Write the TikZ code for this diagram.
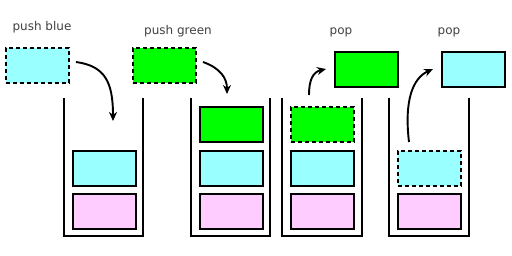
\documentclass[tikz,border=0pt]{standalone}
\usepackage{fontspec}
\setmainfont{DejaVu Sans}
\usetikzlibrary{arrows.meta}
\definecolor{cyanbox}{HTML}{99FFFF}
\definecolor{greenbox}{HTML}{00FF00}
\definecolor{pinkbox}{HTML}{FFCCFF}
\definecolor{labelgray}{HTML}{404040}
\begin{document}
\begin{tikzpicture}[x=1pt,y=-1pt,
  box/.style={draw=black,line width=1.8pt,minimum width=63pt,minimum height=35pt,inner sep=0pt,anchor=north west},
  dbox/.style={box,dash pattern=on 4pt off 3pt},
  wall/.style={draw=black,line width=1.5pt},
  lbl/.style={text=labelgray,font=\fontsize{12}{14}\selectfont,inner sep=0pt},
  arr/.style={line width=1.9pt,-{Stealth[length=9pt,width=8pt]}}]
\useasboundingbox (0,0) rectangle (512,256);
% floating boxes
\node[dbox,fill=cyanbox] (pb) at (5,47) {};
\node[dbox,fill=greenbox] (pg) at (132,47) {};
\node[box,fill=greenbox] (og) at (334,51) {};
\node[box,fill=cyanbox] (oc) at (441,51) {};
% labels
\node[lbl] (l1) at (42,27) {push blue};
\node[lbl] (l2) at (178,31) {push green};
\node[lbl] (l3) at (341,32) {pop};
\node[lbl] (l4) at (449,32) {pop};
% stacks
\draw[wall] (64,98) -- (64,236) -- (143,236) -- (143,98);
\draw[wall] (191,98) -- (191,236) -- (270,236) -- (270,98);
\draw[wall] (282,98) -- (282,236) -- (362,236) -- (362,98);
\draw[wall] (389,98) -- (389,236) -- (469,236) -- (469,98);
% stack 1
\node[box,fill=cyanbox] (s1c) at (72,150) {};
\node[box,fill=pinkbox] (s1p) at (72,193) {};
% stack 2
\node[box,fill=greenbox] (s2g) at (199,106) {};
\node[box,fill=cyanbox] (s2c) at (199,150) {};
\node[box,fill=pinkbox] (s2p) at (199,193) {};
% stack 3
\node[dbox,fill=greenbox] (s3g) at (290,106) {};
\node[box,fill=cyanbox] (s3c) at (290,150) {};
\node[box,fill=pinkbox] (s3p) at (290,193) {};
% stack 4
\node[dbox,fill=cyanbox] (s4c) at (397,150) {};
\node[box,fill=pinkbox] (s4p) at (397,193) {};
% arrow end points
\coordinate (a1s) at (76,62);
\coordinate (a1e) at (113,121);
\coordinate (a2s) at (203,62);
\coordinate (a2e) at (227,94);
\coordinate (a3s) at (309,95);
\coordinate (a3e) at (326,69);
\coordinate (a4s) at (409,142);
\coordinate (a4e) at (433,69);
\draw[arr] (a1s) .. controls (105,66) and (113,82) .. (a1e);
\draw[arr] (a2s) .. controls (220,68) and (227,78) .. (a2e);
\draw[arr] (a3s) .. controls (309,80) and (313,72) .. (a3e);
\draw[arr] (a4s) .. controls (404,100) and (413,78) .. (a4e);
\end{tikzpicture}
\end{document}
